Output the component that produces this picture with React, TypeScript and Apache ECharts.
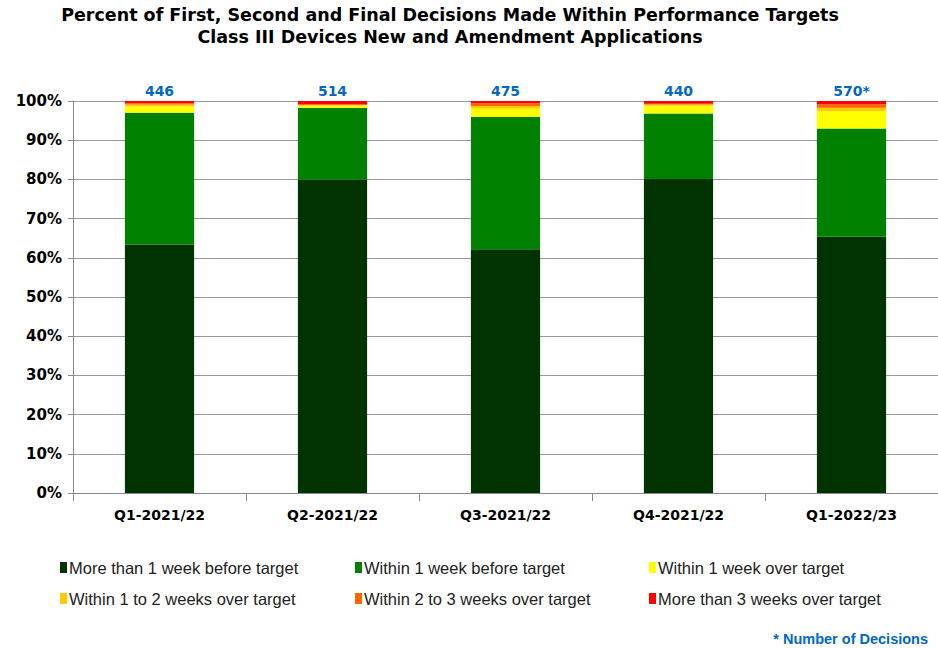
import React, { useEffect, useRef } from "react";
import * as echarts from "echarts";

const categories = ["Q1-2021/22", "Q2-2021/22", "Q3-2021/22", "Q4-2021/22", "Q1-2022/23"];
const totals = ["446", "514", "475", "440", "570*"];
const seriesNames = [
  "More than 1 week before target",
  "Within 1 week before target",
  "Within 1 week over target",
  "Within 1 to 2 weeks over target",
  "Within 2 to 3 weeks over target",
  "More than 3 weeks over target",
];
const moreThan1WeekBefore = [63.4, 80.0, 62.2, 80.1, 65.4];
const within1WeekBefore = [33.6, 18.3, 33.7, 16.7, 27.6];
const within1WeekOver = [1.6, 0.5, 2.1, 2.0, 4.4];
const within1to2WeeksOver = [0.5, 0.2, 0.7, 0.3, 0.9];
const within2to3WeeksOver = [0.3, 0.2, 0.7, 0.2, 0.9];
const moreThan3WeeksOver = [0.6, 0.8, 0.6, 0.7, 0.8];
const yTicks = [0, 10, 20, 30, 40, 50, 60, 70, 80, 90, 100];

const colors = ["#003300", "#008000", "#FFFF00", "#FFCC00", "#FF6600", "#FF0000"];
const FONT = "Arial, 'Liberation Sans', sans-serif";
const BOLD = "'DejaVu Sans', Verdana, sans-serif";

export default function App() {
  const ref = useRef<HTMLDivElement>(null);
  useEffect(() => {
    document.body.style.margin = "0";
    const chart = echarts.init(ref.current!, undefined, { renderer: "svg" });
    const values = [
      moreThan1WeekBefore,
      within1WeekBefore,
      within1WeekOver,
      within1to2WeeksOver,
      within2to3WeeksOver,
      moreThan3WeeksOver,
    ];
    const legendPos = [
      { left: 60, top: 559 },
      { left: 355, top: 559 },
      { left: 649, top: 559 },
      { left: 60, top: 590 },
      { left: 355, top: 590 },
      { left: 649, top: 590 },
    ];
    chart.setOption({
      animation: false,
      title: {
        text: "Percent of First, Second and Final Decisions Made Within Performance Targets\nClass III Devices New and Amendment Applications",
        left: 450,
        top: 4,
        padding: 0,
        textAlign: "center",
        textStyle: {
          fontFamily: BOLD,
          fontSize: 17.5,
          fontWeight: "bold",
          color: "#000",
          lineHeight: 22,
        },
      },
      grid: { left: 73, right: -2, top: 101, bottom: 155, containLabel: false },
      legend: legendPos.map((p, i) => ({
        left: p.left,
        top: p.top,
        padding: 0,
        data: [seriesNames[i]],
        icon: "rect",
        itemWidth: 7,
        itemHeight: 11,
        itemGap: 4,
        textStyle: { fontFamily: FONT, fontSize: 16.5, color: "#222", padding: [0, 0, 0, -3] },
        selectedMode: false,
      })),
      xAxis: {
        type: "category",
        data: categories,
        boundaryGap: true,
        axisLine: { lineStyle: { color: "#888", width: 1 } },
        axisTick: { show: true, interval: 0, length: 8, lineStyle: { color: "#888" } },
        axisLabel: {
          fontFamily: BOLD,
          fontSize: 14,
          fontWeight: "bold",
          color: "#000",
          margin: 15,
        },
      },
      yAxis: {
        type: "value",
        min: 0,
        max: 100,
        interval: 10,
        axisLine: { show: true, lineStyle: { color: "#888" } },
        axisTick: { show: true, length: 5, lineStyle: { color: "#888" } },
        splitLine: { lineStyle: { color: "#999", width: 1 } },
        axisLabel: {
          formatter: (v: number) => (yTicks.includes(v) ? `${v}%` : ""),
          fontFamily: BOLD,
          fontSize: 15,
          fontWeight: "bold",
          color: "#000",
          margin: 11,
        },
      },
      series: values.map((d, i) => ({
        name: seriesNames[i],
        type: "bar",
        stack: "total",
        data: d,
        barWidth: "40%",
        itemStyle: { color: colors[i] },
        label:
          i === values.length - 1
            ? {
                show: true,
                position: "top",
                distance: 3,
                formatter: (p: any) => totals[p.dataIndex],
                fontFamily: BOLD,
                fontSize: 14,
                fontWeight: "bold",
                color: "#0066CC",
              }
            : { show: false },
      })),
      graphic: [
        {
          type: "text",
          right: 10,
          top: 631,
          style: {
            text: "* Number of Decisions",
            fontFamily: "'Liberation Sans Narrow', 'Arial Narrow', " + FONT,
            fontSize: 14.5,
            fontWeight: "bold",
            fill: "#0066CC",
          },
        },
      ],
    });
    return () => chart.dispose();
  }, []);
  return (
    <div
      ref={ref}
      style={{ position: "absolute", left: 0, top: 0, width: 938, height: 648 }}
    />
  );
}
